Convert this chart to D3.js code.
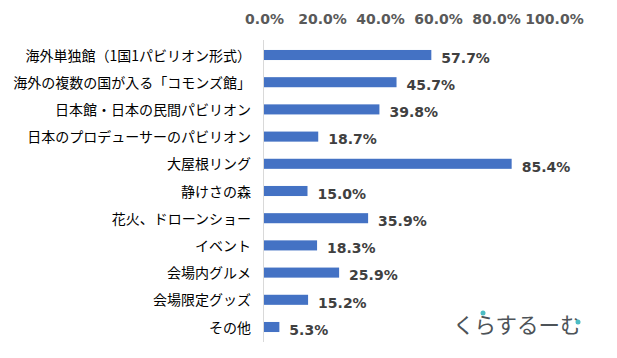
<!DOCTYPE html>
<html>
<head>
<meta charset="utf-8">
<script src="https://cdn.jsdelivr.net/npm/d3@7"></script>
<style>
  html, body { margin: 0; padding: 0; background: #fff; }
  #chart { width: 617px; height: 358px; }
</style>
</head>
<body>
<div id="chart"></div>
<script>
// 大阪万博で良かったもの — 横棒グラフ

const categories = [
  "海外単独館（1国1パビリオン形式）",
  "海外の複数の国が入る「コモンズ館」",
  "日本館・日本の民間パビリオン",
  "日本のプロデューサーのパビリオン",
  "大屋根リング",
  "静けさの森",
  "花火、ドローンショー",
  "イベント",
  "会場内グルメ",
  "会場限定グッズ",
  "その他"
];
const values = [57.7, 45.7, 39.8, 18.7, 85.4, 15.0, 35.9, 18.3, 25.9, 15.2, 5.3];
const ticks = [0, 20, 40, 60, 80, 100];
const tickLabels = ["0.0%", "20.0%", "40.0%", "60.0%", "80.0%", "100.0%"];

const width = 617, height = 358;
const numFont = '"DejaVu Sans", sans-serif';

const svg = d3.select('#chart').append('svg')
  .attr('width', width)
  .attr('height', height)
  .attr('viewBox', `0 0 ${width} ${height}`);

const x = d3.scaleLinear().domain([0, 100]).range([264, 554]);
const y = d3.scaleBand()
  .domain(categories)
  .range([41.4, 340.6])
  .paddingInner(0.63)
  .paddingOuter(0.315);

// top axis labels
const axis = d3.axisTop(x)
  .tickValues(ticks)
  .tickFormat((d, i) => tickLabels[i])
  .tickSize(0)
  .tickPadding(0);

svg.append('g')
  .attr('transform', 'translate(0,24)')
  .call(axis)
  .call(g => g.select('.domain').remove())
  .selectAll('text')
  .attr('font-family', numFont)
  .attr('font-size', 14)
  .attr('font-weight', 'bold')
  .attr('fill', '#595959')
  .attr('dy', 0);

// vertical axis line
svg.append('line')
  .attr('x1', x(0) - 0.5).attr('x2', x(0) - 0.5)
  .attr('y1', 40).attr('y2', 342)
  .attr('stroke', '#d9d9d9')
  .attr('stroke-width', 1);

// bars
svg.append('g').selectAll('rect')
  .data(values)
  .join('rect')
  .attr('x', x(0))
  .attr('y', (d, i) => y(categories[i]))
  .attr('width', d => x(d) - x(0))
  .attr('height', y.bandwidth())
  .attr('fill', '#4472c4');

// value labels
svg.append('g').selectAll('text')
  .data(values)
  .join('text')
  .attr('x', d => x(d) + 10)
  .attr('y', (d, i) => y(categories[i]) + y.bandwidth() / 2 + 7.8)
  .attr('font-family', numFont)
  .attr('font-size', 14)
  .attr('font-weight', 'bold')
  .attr('fill', '#404040')
  .text(d => d.toFixed(1) + '%');

// category labels
svg.append('g').selectAll('text')
  .data(categories)
  .join('text')
  .attr('x', 251)
  .attr('y', d => y(d) + y.bandwidth() / 2 + 5.5)
  .attr('text-anchor', 'end')
  .attr('font-family', '"Noto Sans CJK JP", sans-serif')
  .attr('font-size', 14)
  .attr('fill', '#000')
  .text(d => d);

// watermark
const wm = svg.append('g');
wm.append('text')
  .attr('x', 453)
  .attr('y', 333)
  .attr('font-family', '"Noto Sans CJK JP", sans-serif')
  .attr('font-size', 21.5)
  .attr('fill', '#4d5358')
  .text('くらするーむ');
wm.append('circle').attr('cx', 483).attr('cy', 313).attr('r', 2.5).attr('fill', '#4cbcc4');
wm.append('circle').attr('cx', 578).attr('cy', 322).attr('r', 2.5).attr('fill', '#4cbcc4');
</script>
</body>
</html>
